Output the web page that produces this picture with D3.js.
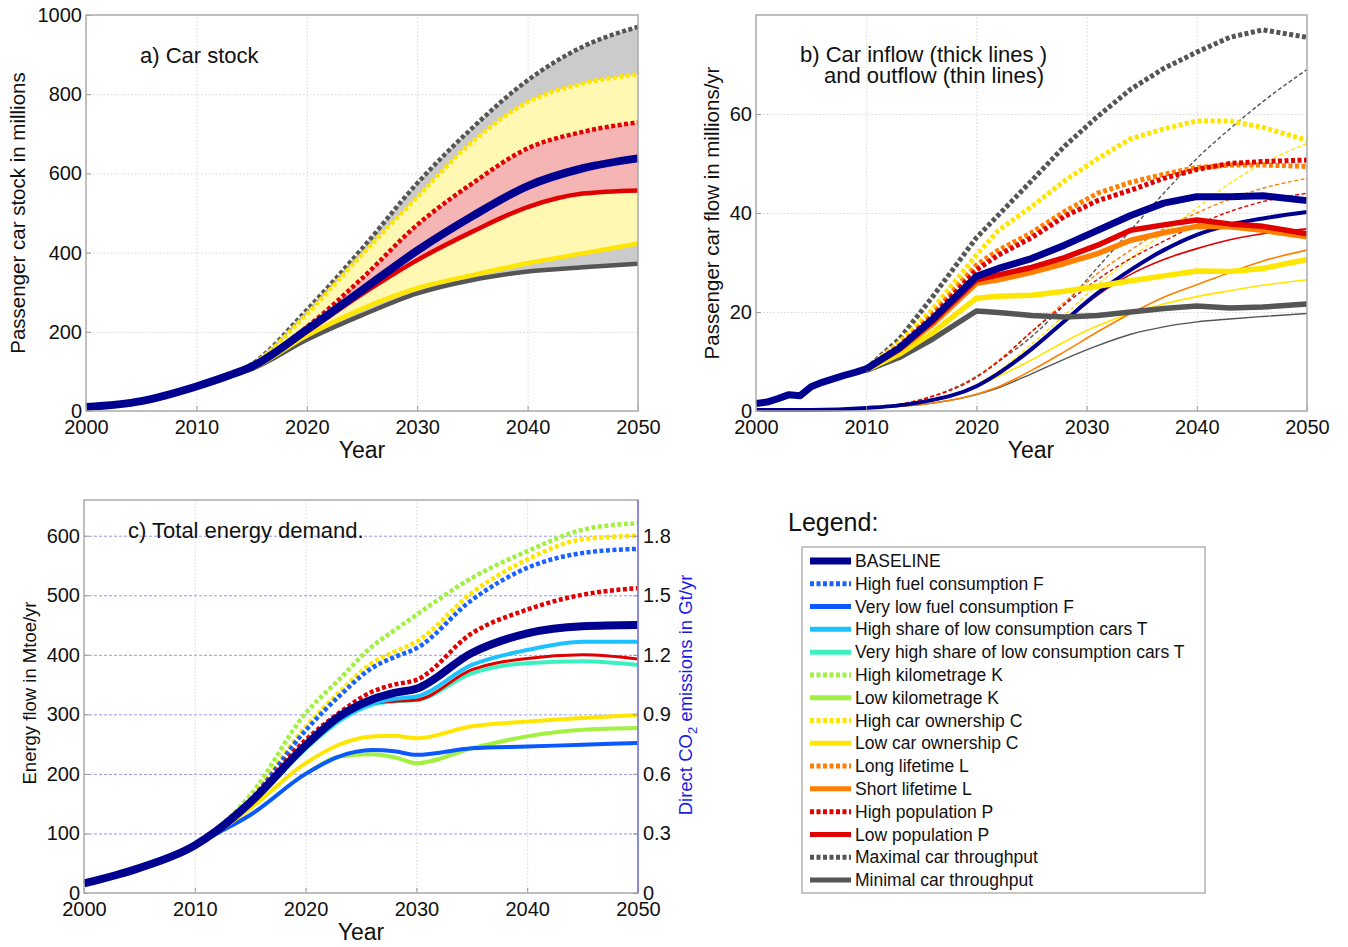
<!DOCTYPE html>
<html>
<head>
<meta charset="utf-8">
<script src="https://cdn.jsdelivr.net/npm/d3@7"></script>
<style>
  html, body { margin: 0; padding: 0; background: #fff; }
  svg { display: block; font-family: "Liberation Sans", Arial, sans-serif; }
  .grid line { stroke: #d4d4d4; stroke-dasharray: 1.5,2; stroke-width: 0.9; }
  .grid path { display: none; }
  .ax path { display: none; }
  .ax line { stroke: #999; }
  .ax text { font-size: 20px; fill: #111; }
</style>
</head>
<body>
<svg id="chart" width="1348" height="947"></svg>
<script>
// ===== 数据 =====
// a) 车辆保有量（百万辆）
const yearsStock = [2000, 2005, 2010, 2013, 2015, 2020, 2025, 2030, 2035, 2040, 2045, 2050];
const stockBaseline = [10, 25, 62, 90, 112, 205, 305, 405, 492, 568, 613, 638];
const stockMax      = [10, 25, 62, 90, 118, 255, 410, 575, 715, 835, 920, 970];
const stockHighOwn  = [10, 25, 62, 90, 116, 245, 395, 540, 680, 780, 827, 850];
const stockHighPop  = [10, 25, 62, 90, 113, 212, 335, 470, 575, 663, 705, 729];
const stockLowPop   = [10, 25, 62, 90, 111, 200, 295, 381, 453, 515, 549, 557];
const stockLowOwn   = [10, 25, 62, 89, 108, 190, 258, 310, 343, 373, 398, 423];
const stockMin      = [10, 25, 62, 89, 106, 180, 242, 297, 331, 352, 363, 372];

// b) 流入（粗线）与流出（细线），百万辆/年
const yearsInEarly = [2000, 2001, 2002, 2003, 2004, 2005, 2006, 2007, 2008, 2009, 2010];
const inflowEarly  = [1.5, 1.8, 2.5, 3.3, 3.1, 4.9, 5.8, 6.5, 7.2, 7.8, 8.5];
const yearsInLate  = [2010, 2013, 2016, 2020, 2022, 2025, 2028, 2031, 2034, 2037, 2040, 2043, 2046, 2050];
const inBaseline  = [8.5, 12.7, 18.5, 27.2, 28.8, 30.8, 33.5, 36.5, 39.5, 42.0, 43.3, 43.3, 43.5, 42.5];
const inLowPop    = [8.5, 12.5, 18.0, 26.5, 27.5, 29.0, 31.0, 33.5, 36.5, 37.6, 38.6, 37.8, 37.3, 35.8];
const inShortLife = [8.5, 12.3, 17.5, 25.8, 26.5, 28.0, 29.8, 31.8, 34.5, 36.0, 37.3, 37.2, 36.5, 35.2];
const inLowOwn    = [8.3, 11.5, 15.8, 22.8, 23.2, 23.4, 24.2, 25.2, 26.3, 27.3, 28.3, 28.2, 28.8, 30.6];
const inMin       = [8.2, 10.8, 14.5, 20.2, 19.9, 19.3, 19.0, 19.3, 20.0, 20.7, 21.2, 20.8, 21.0, 21.6];
const inMax       = [8.5, 14.5, 23.0, 35.0, 39.6, 46.5, 53.5, 59.5, 65.0, 69.2, 72.5, 75.5, 77.0, 75.5];
const inHighOwn   = [8.5, 13.8, 20.5, 31.5, 36.5, 41.3, 46.5, 51.0, 55.0, 57.0, 58.6, 58.6, 57.3, 54.7];
const inHighPop   = [8.5, 13.0, 19.0, 28.5, 31.5, 35.0, 39.3, 42.5, 44.6, 47.0, 48.8, 50.0, 50.4, 50.7];
const inLongLife  = [8.5, 13.2, 19.5, 29.5, 32.5, 36.0, 40.3, 44.0, 46.2, 47.8, 49.2, 49.7, 49.7, 49.4];

const yearsOut = [2000, 2005, 2010, 2015, 2020, 2022, 2025, 2028, 2031, 2034, 2037, 2040, 2043, 2046, 2050];
const outBaseline  = [0.2, 0.2, 0.6, 1.8, 5.0, 7.6, 12.5, 18.2, 23.8, 28.5, 32.5, 35.6, 37.6, 38.9, 40.2];
const outLowPop    = [0.2, 0.2, 0.6, 1.8, 5.0, 7.6, 12.5, 18.1, 23.4, 27.6, 30.6, 32.8, 34.6, 35.8, 36.8];
const outHighPop   = [0.2, 0.2, 0.6, 2.3, 6.8, 10.0, 16.0, 21.5, 26.6, 30.8, 34.3, 37.6, 40.3, 42.3, 44.0];
const outLongLife  = [0.2, 0.2, 0.6, 2.4, 6.9, 10.2, 16.0, 22.0, 27.8, 32.5, 36.8, 40.0, 42.8, 45.0, 47.0];
const outHighOwn   = [0.2, 0.2, 0.6, 1.9, 5.3, 8.0, 13.5, 19.4, 25.5, 30.8, 36.0, 41.0, 46.0, 50.0, 54.0];
const outMax       = [0.2, 0.2, 0.6, 2.3, 7.0, 10.0, 15.0, 21.5, 29.0, 36.5, 44.0, 51.0, 57.0, 62.5, 69.0];
const outMin       = [0.2, 0.2, 0.6, 1.3, 3.3, 4.7, 7.5, 10.5, 13.2, 15.5, 17.0, 18.0, 18.6, 19.1, 19.7];
const outLowOwn    = [0.2, 0.2, 0.6, 1.6, 4.8, 7.0, 10.3, 14.0, 17.2, 19.7, 21.6, 23.1, 24.3, 25.4, 26.5];
const outShortLife = [0.2, 0.2, 0.6, 1.3, 3.4, 4.9, 8.2, 12.0, 16.0, 19.7, 23.0, 25.5, 28.0, 30.3, 32.5];

// c) 总能源需求（Mtoe/年）
const yearsEnergy = [2000, 2005, 2010, 2012, 2015, 2020, 2023, 2026, 2028, 2030, 2035, 2040, 2045, 2050];
const enBaseline    = [16, 42, 80, 105, 152, 248, 296, 325, 336, 343, 403, 436, 448, 450];
const enHighFuel    = [16, 42, 80, 106, 156, 273, 330, 378, 396, 411, 492, 546, 571, 578];
const enVeryLowFuel = [16, 42, 80, 100, 131, 200, 229, 240, 238, 232, 243, 246, 249, 252];
const enHighShare   = [16, 42, 80, 104, 150, 244, 290, 318, 326, 330, 383, 408, 422, 422];
const enVHighShare  = [16, 42, 80, 104, 149, 242, 288, 316, 322, 324, 369, 386, 389, 383];
const enHighKm      = [16, 42, 80, 108, 164, 302, 358, 414, 441, 467, 529, 574, 610, 621];
const enLowKm       = [16, 42, 80, 100, 131, 200, 229, 233, 228, 218, 243, 263, 274, 277];
const enHighOwn     = [16, 42, 80, 107, 158, 279, 336, 386, 405, 422, 504, 560, 594, 600];
const enLowOwn      = [16, 42, 80, 102, 142, 218, 249, 263, 264, 260, 280, 288, 294, 299];
const enHighPop     = [16, 42, 80, 105, 155, 257, 302, 338, 350, 358, 436, 476, 501, 512];
const enLowPop      = [16, 42, 80, 104, 150, 244, 290, 318, 322, 324, 375, 394, 400, 393];

// 刻度
const xTicks = [2000, 2010, 2020, 2030, 2040, 2050];
const yTicksA = [0, 200, 400, 600, 800, 1000];
const yTicksB = [0, 20, 40, 60];
const yTicksC = [0, 100, 200, 300, 400, 500, 600];
const yTicksCO2 = [0, 0.3, 0.6, 0.9, 1.2, 1.5, 1.8];

// 图例
const legendNames = ["BASELINE", "High fuel consumption F", "Very low fuel consumption F",
  "High share of low consumption cars T", "Very high share of low consumption cars T",
  "High kilometrage K", "Low kilometrage K", "High car ownership C", "Low car ownership C",
  "Long lifetime L", "Short lifetime L", "High population P", "Low population P",
  "Maximal car throughput", "Minimal car throughput"];

// ===== 样式 =====
const C = {
  base: "#000090", fuelHi: "#1a62ff", fuelLo: "#0a58ff", shareHi: "#1cc2ff", shareVHi: "#3cf0c0",
  km: "#a2f040", own: "#ffe600", life: "#ff7f00", pop: "#e00000", thr: "#555555"
};
const legendStyle = [
  [C.base, false, 7], [C.fuelHi, true, 5], [C.fuelLo, false, 5], [C.shareHi, false, 5],
  [C.shareVHi, false, 5], [C.km, true, 5], [C.km, false, 5], [C.own, true, 5], [C.own, false, 5],
  [C.life, true, 5], [C.life, false, 5], [C.pop, true, 5], [C.pop, false, 5],
  [C.thr, true, 5], [C.thr, false, 5]
];
const DOT = "4,2.5";

const svg = d3.select("#chart");

function panel(x0, x1, y0, y1, yMax) {
  const x = d3.scaleLinear().domain([2000, 2050]).range([x0, x1]);
  const y = d3.scaleLinear().domain([0, yMax]).range([y1, y0]);
  return { x, y, x0, x1, y0, y1 };
}

function frame(p, yTicks, opt = {}) {
  const g = svg.append("g");
  // 网格
  g.append("g").attr("class", "grid").attr("transform", `translate(0,${p.y1})`)
    .call(d3.axisBottom(p.x).tickValues(xTicks.slice(1, -1)).tickSize(-(p.y1 - p.y0)).tickFormat(""));
  const yg = g.append("g").attr("class", "grid").attr("transform", `translate(${p.x0},0)`)
    .call(d3.axisLeft(p.y).tickValues(yTicks.filter(v => v > 0 && v < p.y.domain()[1])).tickSize(-(p.x1 - p.x0)).tickFormat(""));
  if (opt.blueGrid) {
    yg.selectAll("line").style("stroke", "#8c8cf5").style("stroke-dasharray", "3,2").style("stroke-width", 0.9);
  }
  return g;
}

function axes(p, yTicks) {
  const g = svg.append("g");
  g.append("g").attr("class", "ax").attr("transform", `translate(0,${p.y1})`)
    .call(d3.axisBottom(p.x).tickValues(xTicks).tickSize(-5).tickPadding(9).tickFormat(d3.format("d")));
  g.append("g").attr("class", "ax").attr("transform", `translate(${p.x0},0)`)
    .call(d3.axisLeft(p.y).tickValues(yTicks).tickSize(-5).tickPadding(4).tickFormat(d3.format("d")));
  g.append("rect").attr("x", p.x0).attr("y", p.y0).attr("width", p.x1 - p.x0).attr("height", p.y1 - p.y0)
    .attr("fill", "none").attr("stroke", "#aaaaaa").attr("stroke-width", 1.5);
  return g;
}

function drawLine(g, p, years, vals, color, width, dash, curve) {
  const line = d3.line().x((d, i) => p.x(years[i])).y(d => p.y(d)).curve(curve || d3.curveMonotoneX);
  g.append("path").attr("d", line(vals)).attr("fill", "none").attr("stroke", color)
    .attr("stroke-width", width).attr("stroke-dasharray", dash || null)
    .attr("stroke-linejoin", "round");
}

function drawBand(g, p, years, hi, lo, color) {
  const area = d3.area().x((d, i) => p.x(years[i])).y0((d, i) => p.y(lo[i])).y1(d => p.y(d))
    .curve(d3.curveMonotoneX);
  g.append("path").attr("d", area(hi)).attr("fill", color);
}

function text(x, y, str, size, opt = {}) {
  return svg.append("text").attr("x", x).attr("y", y).attr("font-size", size)
    .attr("text-anchor", opt.anchor || "start").attr("fill", opt.fill || "#111").text(str);
}

function vlabel(cx, cy, str, size, fill) {
  return svg.append("text").attr("transform", `translate(${cx},${cy}) rotate(-90)`)
    .attr("text-anchor", "middle").attr("dy", "0.35em").attr("font-size", size)
    .attr("fill", fill || "#111").text(str);
}

// ===== a) 车辆保有量 =====
const pa = panel(86, 638, 15, 411, 1000);
frame(pa, yTicksA);
const ga = svg.append("g");
drawBand(ga, pa, yearsStock, stockMax, stockMin, "#cbcbcb");
drawBand(ga, pa, yearsStock, stockHighOwn, stockLowOwn, "#fff8b2");
drawBand(ga, pa, yearsStock, stockHighPop, stockLowPop, "#f5b5b5");
drawLine(ga, pa, yearsStock, stockMax, C.thr, 4.5, DOT);
drawLine(ga, pa, yearsStock, stockHighOwn, C.own, 4.5, DOT);
drawLine(ga, pa, yearsStock, stockHighPop, C.pop, 4.5, DOT);
drawLine(ga, pa, yearsStock, stockMin, C.thr, 4.5);
drawLine(ga, pa, yearsStock, stockLowOwn, C.own, 4.5);
drawLine(ga, pa, yearsStock, stockLowPop, C.pop, 4.5);
drawLine(ga, pa, yearsStock, stockBaseline, C.base, 8);
axes(pa, yTicksA);
text(140, 63, "a) Car stock", 22);
text(362, 458, "Year", 23, { anchor: "middle" });
vlabel(18, 213, "Passenger car stock in millions", 20.5);

// ===== b) 流入与流出 =====
const pb = panel(756, 1307, 15, 411, 80);
frame(pb, yTicksB);
const gb = svg.append("g");
// 流出：细线
drawLine(gb, pb, yearsOut, outMax, C.thr, 1.4, "4,2.5");
drawLine(gb, pb, yearsOut, outHighOwn, C.own, 1.4, "4,2.5");
drawLine(gb, pb, yearsOut, outLongLife, C.life, 1.4, "4,2.5");
drawLine(gb, pb, yearsOut, outHighPop, C.pop, 1.4, "4,2.5");
drawLine(gb, pb, yearsOut, outMin, C.thr, 1.4);
drawLine(gb, pb, yearsOut, outLowOwn, C.own, 1.6);
drawLine(gb, pb, yearsOut, outShortLife, C.life, 1.6);
drawLine(gb, pb, yearsOut, outLowPop, C.pop, 1.6);
drawLine(gb, pb, yearsOut, outBaseline, C.base, 4);
// 流入：粗线
const lin = d3.curveLinear;
drawLine(gb, pb, yearsInLate, inMin, C.thr, 5.5, null, lin);
drawLine(gb, pb, yearsInLate, inLowOwn, C.own, 5.5, null, lin);
drawLine(gb, pb, yearsInLate, inShortLife, C.life, 5.5, null, lin);
drawLine(gb, pb, yearsInLate, inLowPop, C.pop, 5.5, null, lin);
drawLine(gb, pb, yearsInLate, inMax, C.thr, 5, DOT, lin);
drawLine(gb, pb, yearsInLate, inHighOwn, C.own, 5, DOT, lin);
drawLine(gb, pb, yearsInLate, inLongLife, C.life, 5, DOT, lin);
drawLine(gb, pb, yearsInLate, inHighPop, C.pop, 5, DOT, lin);
drawLine(gb, pb, yearsInLate, inBaseline, C.base, 7, null, lin);
drawLine(gb, pb, yearsInEarly, inflowEarly, C.base, 7, null, lin);
axes(pb, yTicksB);
text(800, 62, "b) Car inflow (thick lines )", 22);
text(824, 83, "and outflow (thin lines)", 22);
text(1031, 458, "Year", 23, { anchor: "middle" });
vlabel(712, 213, "Passenger car flow in millions/yr", 20.5);

// ===== c) 总能源需求 =====
const pc = panel(84, 638, 500, 893, 660);
frame(pc, yTicksC, { blueGrid: true });
const gc = svg.append("g");
drawLine(gc, pc, yearsEnergy, enHighKm, C.km, 4.5, DOT);
drawLine(gc, pc, yearsEnergy, enHighOwn, C.own, 4.5, DOT);
drawLine(gc, pc, yearsEnergy, enHighFuel, C.fuelHi, 4.5, DOT);
drawLine(gc, pc, yearsEnergy, enHighPop, C.pop, 4.5, DOT);
drawLine(gc, pc, yearsEnergy, enLowKm, C.km, 4);
drawLine(gc, pc, yearsEnergy, enVeryLowFuel, C.fuelLo, 4);
drawLine(gc, pc, yearsEnergy, enLowOwn, C.own, 4);
drawLine(gc, pc, yearsEnergy, enVHighShare, C.shareVHi, 4);
drawLine(gc, pc, yearsEnergy, enLowPop, C.pop, 3);
drawLine(gc, pc, yearsEnergy, enHighShare, C.shareHi, 4);
drawLine(gc, pc, yearsEnergy, enBaseline, C.base, 8);
axes(pc, yTicksC);
// 右侧 CO2 轴
const yCO2 = d3.scaleLinear().domain([0, 660 * 0.003]).range([pc.y1, pc.y0]);
const gr = svg.append("g").attr("class", "ax").attr("transform", `translate(${pc.x1},0)`)
  .call(d3.axisRight(yCO2).tickValues(yTicksCO2).tickSize(-5).tickPadding(5)
    .tickFormat(d => d === 0 ? "0" : d.toFixed(1)));
gr.selectAll("text").attr("fill", "#1a1ae6");
gr.selectAll("line").attr("stroke", "#6a6af0");
svg.append("line").attr("x1", pc.x1).attr("x2", pc.x1).attr("y1", pc.y0).attr("y2", pc.y1)
  .attr("stroke", "#7a7af5").attr("stroke-width", 1.5);
text(128, 538, "c) Total energy demand.", 22);
text(361, 940, "Year", 23, { anchor: "middle" });
vlabel(30, 693, "Energy flow in Mtoe/yr", 18.5);
const co2 = svg.append("text").attr("transform", "translate(686,695) rotate(-90)")
  .attr("text-anchor", "middle").attr("dy", "0.35em").attr("font-size", 18.5).attr("fill", "#1a1ae6");
co2.append("tspan").text("Direct CO");
co2.append("tspan").attr("font-size", 13).attr("dy", 5).text("2");
co2.append("tspan").attr("dy", -5).text(" emissions in Gt/yr");

// ===== 图例 =====
text(788, 531, "Legend:", 25);
svg.append("rect").attr("x", 802).attr("y", 547).attr("width", 403).attr("height", 346)
  .attr("fill", "#fff").attr("stroke", "#a0a0a0").attr("stroke-width", 1.2);
const ly = d3.scaleLinear().domain([0, legendNames.length - 1]).range([561, 880]);
legendNames.forEach((name, i) => {
  const [col, dotted, w] = legendStyle[i];
  svg.append("line").attr("x1", 810).attr("x2", 851).attr("y1", ly(i)).attr("y2", ly(i))
    .attr("stroke", col).attr("stroke-width", w).attr("stroke-dasharray", dotted ? "4,2.5" : null);
  svg.append("text").attr("x", 855).attr("y", ly(i)).attr("dy", "0.35em")
    .attr("font-size", 17.5).attr("fill", "#111").text(name);
});
</script>
</body>
</html>
